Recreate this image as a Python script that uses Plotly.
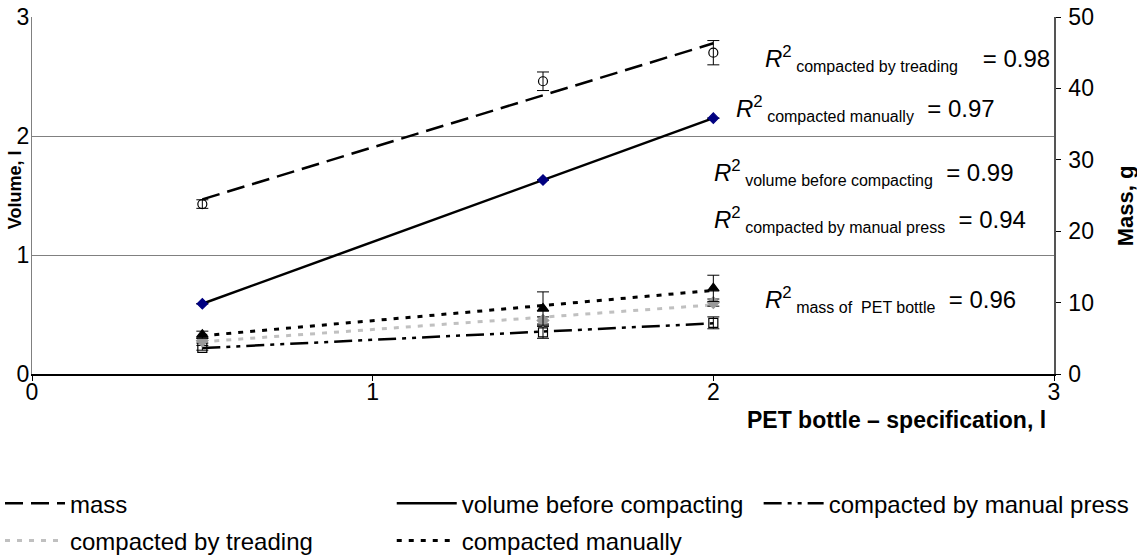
import numpy as np
import plotly.graph_objects as go

# ---- data ----
bottle_l = [0.5, 1.5, 2.0]
mass_g = [23.8, 41.0, 45.0]
mass_err = [0.6, 1.3, 1.7]
vol_before = [0.59, 1.63, 2.15]
vol_before_err = [0.0, 0.0, 0.0]
vol_press = [0.22, 0.35, 0.43]
vol_press_err = [0.02, 0.05, 0.05]
vol_tread = [0.28, 0.45, 0.60]
vol_tread_err = [0.02, 0.03, 0.03]
vol_manual = [0.33, 0.55, 0.72]
vol_manual_err = [0.03, 0.14, 0.11]

series_names = ["mass", "volume before compacting", "compacted by manual press",
                "compacted by treading", "compacted manually"]
r2_labels = [
    ("compacted by treading", "0.98"),
    ("compacted manually", "0.97"),
    ("volume before compacting", "0.99"),
    ("compacted by manual press", "0.94"),
    ("mass of  PET bottle", "0.96"),
]
x_ticks = [0, 1, 2, 3]
y_ticks = [0, 1, 2, 3]
y2_ticks = [0, 10, 20, 30, 40, 50]

FONT = "Arial, Liberation Sans, sans-serif"
FS = 23

fig = go.Figure()

def trend(y):
    k, b = np.polyfit(bottle_l, y, 1)
    xs = [bottle_l[0], bottle_l[-1]]
    return xs, [k * v + b for v in xs]

specs = [
    # name, y, err, axis, line color, dash, width, marker symbol, marker color, marker size, legend
    (series_names[0], mass_g, mass_err, "y2", "black", "18px,8px", 2.5, "circle-open", "black", 9, "legend"),
    (series_names[1], vol_before, vol_before_err, "y", "black", "solid", 2.5, "diamond", "#000080", 8, "legend2"),
    (series_names[2], vol_press, vol_press_err, "y", "black", "18px,6px,4px,6px,4px,6px", 2.5, "square-open", "black", 9, "legend3"),
    (series_names[3], vol_tread, vol_tread_err, "y", "#c0c0c0", "5px,7px", 3, "diamond", "#999999", 9, "legend"),
    (series_names[4], vol_manual, vol_manual_err, "y", "black", "5px,7px", 3, "triangle-up", "black", 10, "legend2"),
]

# trendlines (legend entries)
for name, y, err, ax, lc, dash, w, sym, mc, ms, lg in specs:
    xs, ys = trend(y)
    fig.add_trace(go.Scatter(x=xs, y=ys, mode="lines", name=name, yaxis=ax, legend=lg,
                             legendgroup=name,
                             line=dict(color=lc, dash=dash, width=w)))

# data points with error bars
for name, y, err, ax, lc, dash, w, sym, mc, ms, lg in specs:
    fig.add_trace(go.Scatter(
        x=bottle_l, y=y, mode="markers", yaxis=ax, showlegend=False,
        marker=dict(symbol=sym, color=mc, size=ms, line=dict(color=mc, width=1.2)),
        error_y=dict(type="data", array=err, color="black", thickness=1, width=6,
                     visible=True),
    ))

# R^2 annotations
r2_pos = [(2.147, 2.65), (2.062, 2.23), (1.995, 1.69), (1.995, 1.30), (2.147, 0.625)]
r2_gap = ["&nbsp;&nbsp;&nbsp;&#8201;", "&nbsp;&nbsp;", "&nbsp;&nbsp;", "&nbsp;&nbsp;", "&nbsp;&nbsp;"]
for (lab, val), (ax_, ay_), gap in zip(r2_labels, r2_pos, r2_gap):
    fig.add_annotation(
        x=ax_, y=ay_, xref="x", yref="y", xanchor="left", yanchor="middle",
        showarrow=False,
        text=(f"<i>R</i><sup>2</sup><sub><span style='font-size:16px'> {lab}</span></sub>"
              f"{gap}= {val}"),
        font=dict(family=FONT, size=24, color="black"),
    )

# axis titles
fig.add_annotation(x=-0.0166, y=0.515, xref="paper", yref="paper", text="<b>Volume, l</b>",
                   textangle=-90, showarrow=False, xanchor="center", yanchor="middle",
                   font=dict(family=FONT, size=18, color="black"))
fig.add_annotation(x=1.0695, y=0.47, xref="paper", yref="paper", text="<b>Mass, g</b>",
                   textangle=-90, showarrow=False, xanchor="center", yanchor="middle",
                   font=dict(family=FONT, size=22, color="black"))
fig.add_annotation(x=0.994, y=-0.129, xref="paper", yref="paper",
                   text="<b>PET bottle – specification, l</b>",
                   showarrow=False, xanchor="right", yanchor="middle",
                   font=dict(family=FONT, size=23, color="black"))

leg_common = dict(orientation="v", yanchor="top", y=-0.30, xanchor="left",
                  itemwidth=60, tracegroupgap=3, bgcolor="rgba(0,0,0,0)",
                  borderwidth=0, font=dict(family=FONT, size=24, color="black"))

fig.update_layout(
    width=1137, height=559,
    margin=dict(l=32, r=83, t=17, b=185, autoexpand=False),
    paper_bgcolor="white", plot_bgcolor="white",
    font=dict(family=FONT, size=FS, color="black"),
    xaxis=dict(range=[0, 3], tickvals=x_ticks, showgrid=False, zeroline=False,
               showline=True, linecolor="black", linewidth=1.5,
               ticks="outside", ticklen=5, tickcolor="black", ticklabelstandoff=-8,
               ticklabeloverflow="allow",
               tickfont=dict(size=FS), fixedrange=True, automargin=False),
    yaxis=dict(range=[0, 3], tickvals=y_ticks, showgrid=True, gridcolor="#808080",
               gridwidth=1, zeroline=False, showline=True, linecolor="#808080",
               linewidth=1, ticks="", tickfont=dict(size=FS), ticklabelstandoff=-3,
               ticklabeloverflow="allow", automargin=False),
    yaxis2=dict(range=[0, 50], tickvals=y2_ticks, overlaying="y", side="right",
                showgrid=False, zeroline=False, showline=True, linecolor="#555555",
                linewidth=1.5, ticks="outside", ticklen=5, tickcolor="black",
                ticklabelstandoff=3, ticklabeloverflow="allow",
                tickfont=dict(size=FS), automargin=False),
    yaxis3=dict(range=[0, 50], tickvals=y2_ticks, overlaying="y", side="right",
                anchor="x", showgrid=False, zeroline=False, showline=False,
                ticks="inside", ticklen=9, tickcolor="black", showticklabels=False,
                automargin=False),
    legend=dict(x=-0.0313, **leg_common),
    legend2=dict(x=0.352, **leg_common),
    legend3=dict(x=0.711, **leg_common),
    showlegend=True,
)

fig.write_html("out.html", config={"displayModeBar": False},
               post_script="document.body.style.margin='0';")
